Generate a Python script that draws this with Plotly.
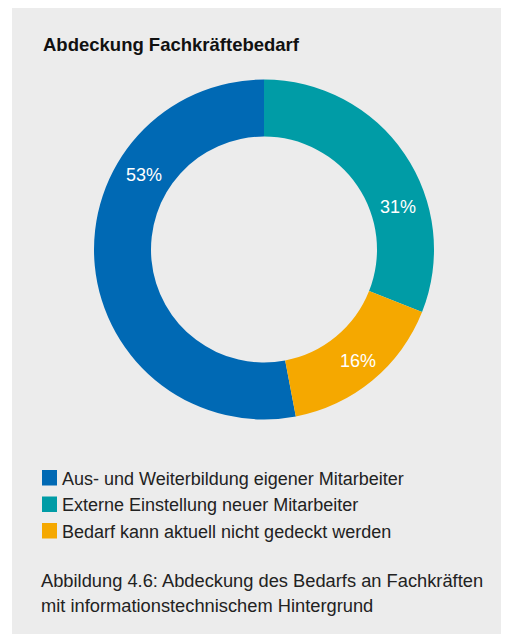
import math

import plotly.graph_objects as go

# Data
categories = [
    "Aus- und Weiterbildung eigener Mitarbeiter",
    "Externe Einstellung neuer Mitarbeiter",
    "Bedarf kann aktuell nicht gedeckt werden",
]
shares = [53, 31, 16]
share_labels = ["53%", "31%", "16%"]
colors = ["#0069B4", "#009CA6", "#F5A800"]

title_text = "Abdeckung Fachkräftebedarf"
caption_lines = [
    "Abbildung 4.6: Abdeckung des Bedarfs an Fachkräften",
    "mit informationstechnischem Hintergrund",
]

# Layout: coordinates below are page pixels; the page body adds an 8px margin
PAGE_W, PAGE_H = 509, 634
OFF = 8
W, H = PAGE_W - OFF, PAGE_H - OFF
FONT = "Liberation Sans, Arial, sans-serif"
TEXT_COLOR = "#222222"
PANEL_COLOR = "#ECECEC"
CX, CY, R_OUT, R_IN = 264, 249.5, 170, 113
# where the percentage labels sit on the ring (degrees clockwise from 12 o'clock)
LABEL_ANGLES = [302, 72.5, 140]
LABEL_RADII = [141, 141, 146]


def px(x):
    return (x - OFF) / W


def py(y):
    return 1 - (y - OFF) / H


# blue slice ends at 12 o'clock, going clockwise
rotation = 360 * sum(shares[1:]) / sum(shares)

fig = go.Figure(
    go.Pie(
        labels=categories,
        values=shares,
        marker=dict(colors=colors, line=dict(width=0)),
        hole=R_IN / R_OUT,
        sort=False,
        direction="clockwise",
        rotation=rotation,
        textinfo="none",
        hoverinfo="label+percent",
        showlegend=False,
        domain=dict(
            x=[px(CX - R_OUT), px(CX + R_OUT)],
            y=[py(CY + R_OUT), py(CY - R_OUT)],
        ),
    )
)

annotations = []
shapes = [
    # grey panel
    dict(
        type="rect", xref="paper", yref="paper",
        x0=px(12), x1=px(507), y0=0, y1=1,
        fillcolor=PANEL_COLOR, line=dict(width=0), layer="below",
    )
]

# title
annotations.append(dict(
    text=f"<b>{title_text}</b>", x=px(41), y=py(44.5),
    xanchor="left", yanchor="middle",
    font=dict(size=18.5, color="#111111", family=FONT),
))

# percentage labels on the ring
for lbl, ang, rad in zip(share_labels, LABEL_ANGLES, LABEL_RADII):
    a = math.radians(ang)
    annotations.append(dict(
        text=lbl,
        x=px(CX + rad * math.sin(a)), y=py(CY - rad * math.cos(a)),
        xanchor="center", yanchor="middle",
        font=dict(size=18, color="white", family=FONT),
    ))

# custom legend
for i, (name, col) in enumerate(zip(categories, colors)):
    top = 470 + i * 26.5
    shapes.append(dict(
        type="rect", xref="paper", yref="paper",
        x0=px(42), x1=px(57), y0=py(top + 15.5), y1=py(top),
        fillcolor=col, line=dict(width=0),
    ))
    annotations.append(dict(
        text=name, x=px(60), y=py(top + 8.5),
        xanchor="left", yanchor="middle",
        font=dict(size=18, color=TEXT_COLOR, family=FONT),
    ))

# caption
for i, line in enumerate(caption_lines):
    annotations.append(dict(
        text=line, x=px(39), y=py(580 + i * 25),
        xanchor="left", yanchor="middle",
        font=dict(size=18.3, color=TEXT_COLOR, family=FONT),
    ))

for a in annotations:
    a.update(xref="paper", yref="paper", showarrow=False)

fig.update_layout(
    width=W,
    height=H,
    autosize=False,
    margin=dict(l=0, r=0, t=0, b=0),
    paper_bgcolor="white",
    plot_bgcolor="white",
    annotations=annotations,
    shapes=shapes,
)

fig.write_html("out.html")
